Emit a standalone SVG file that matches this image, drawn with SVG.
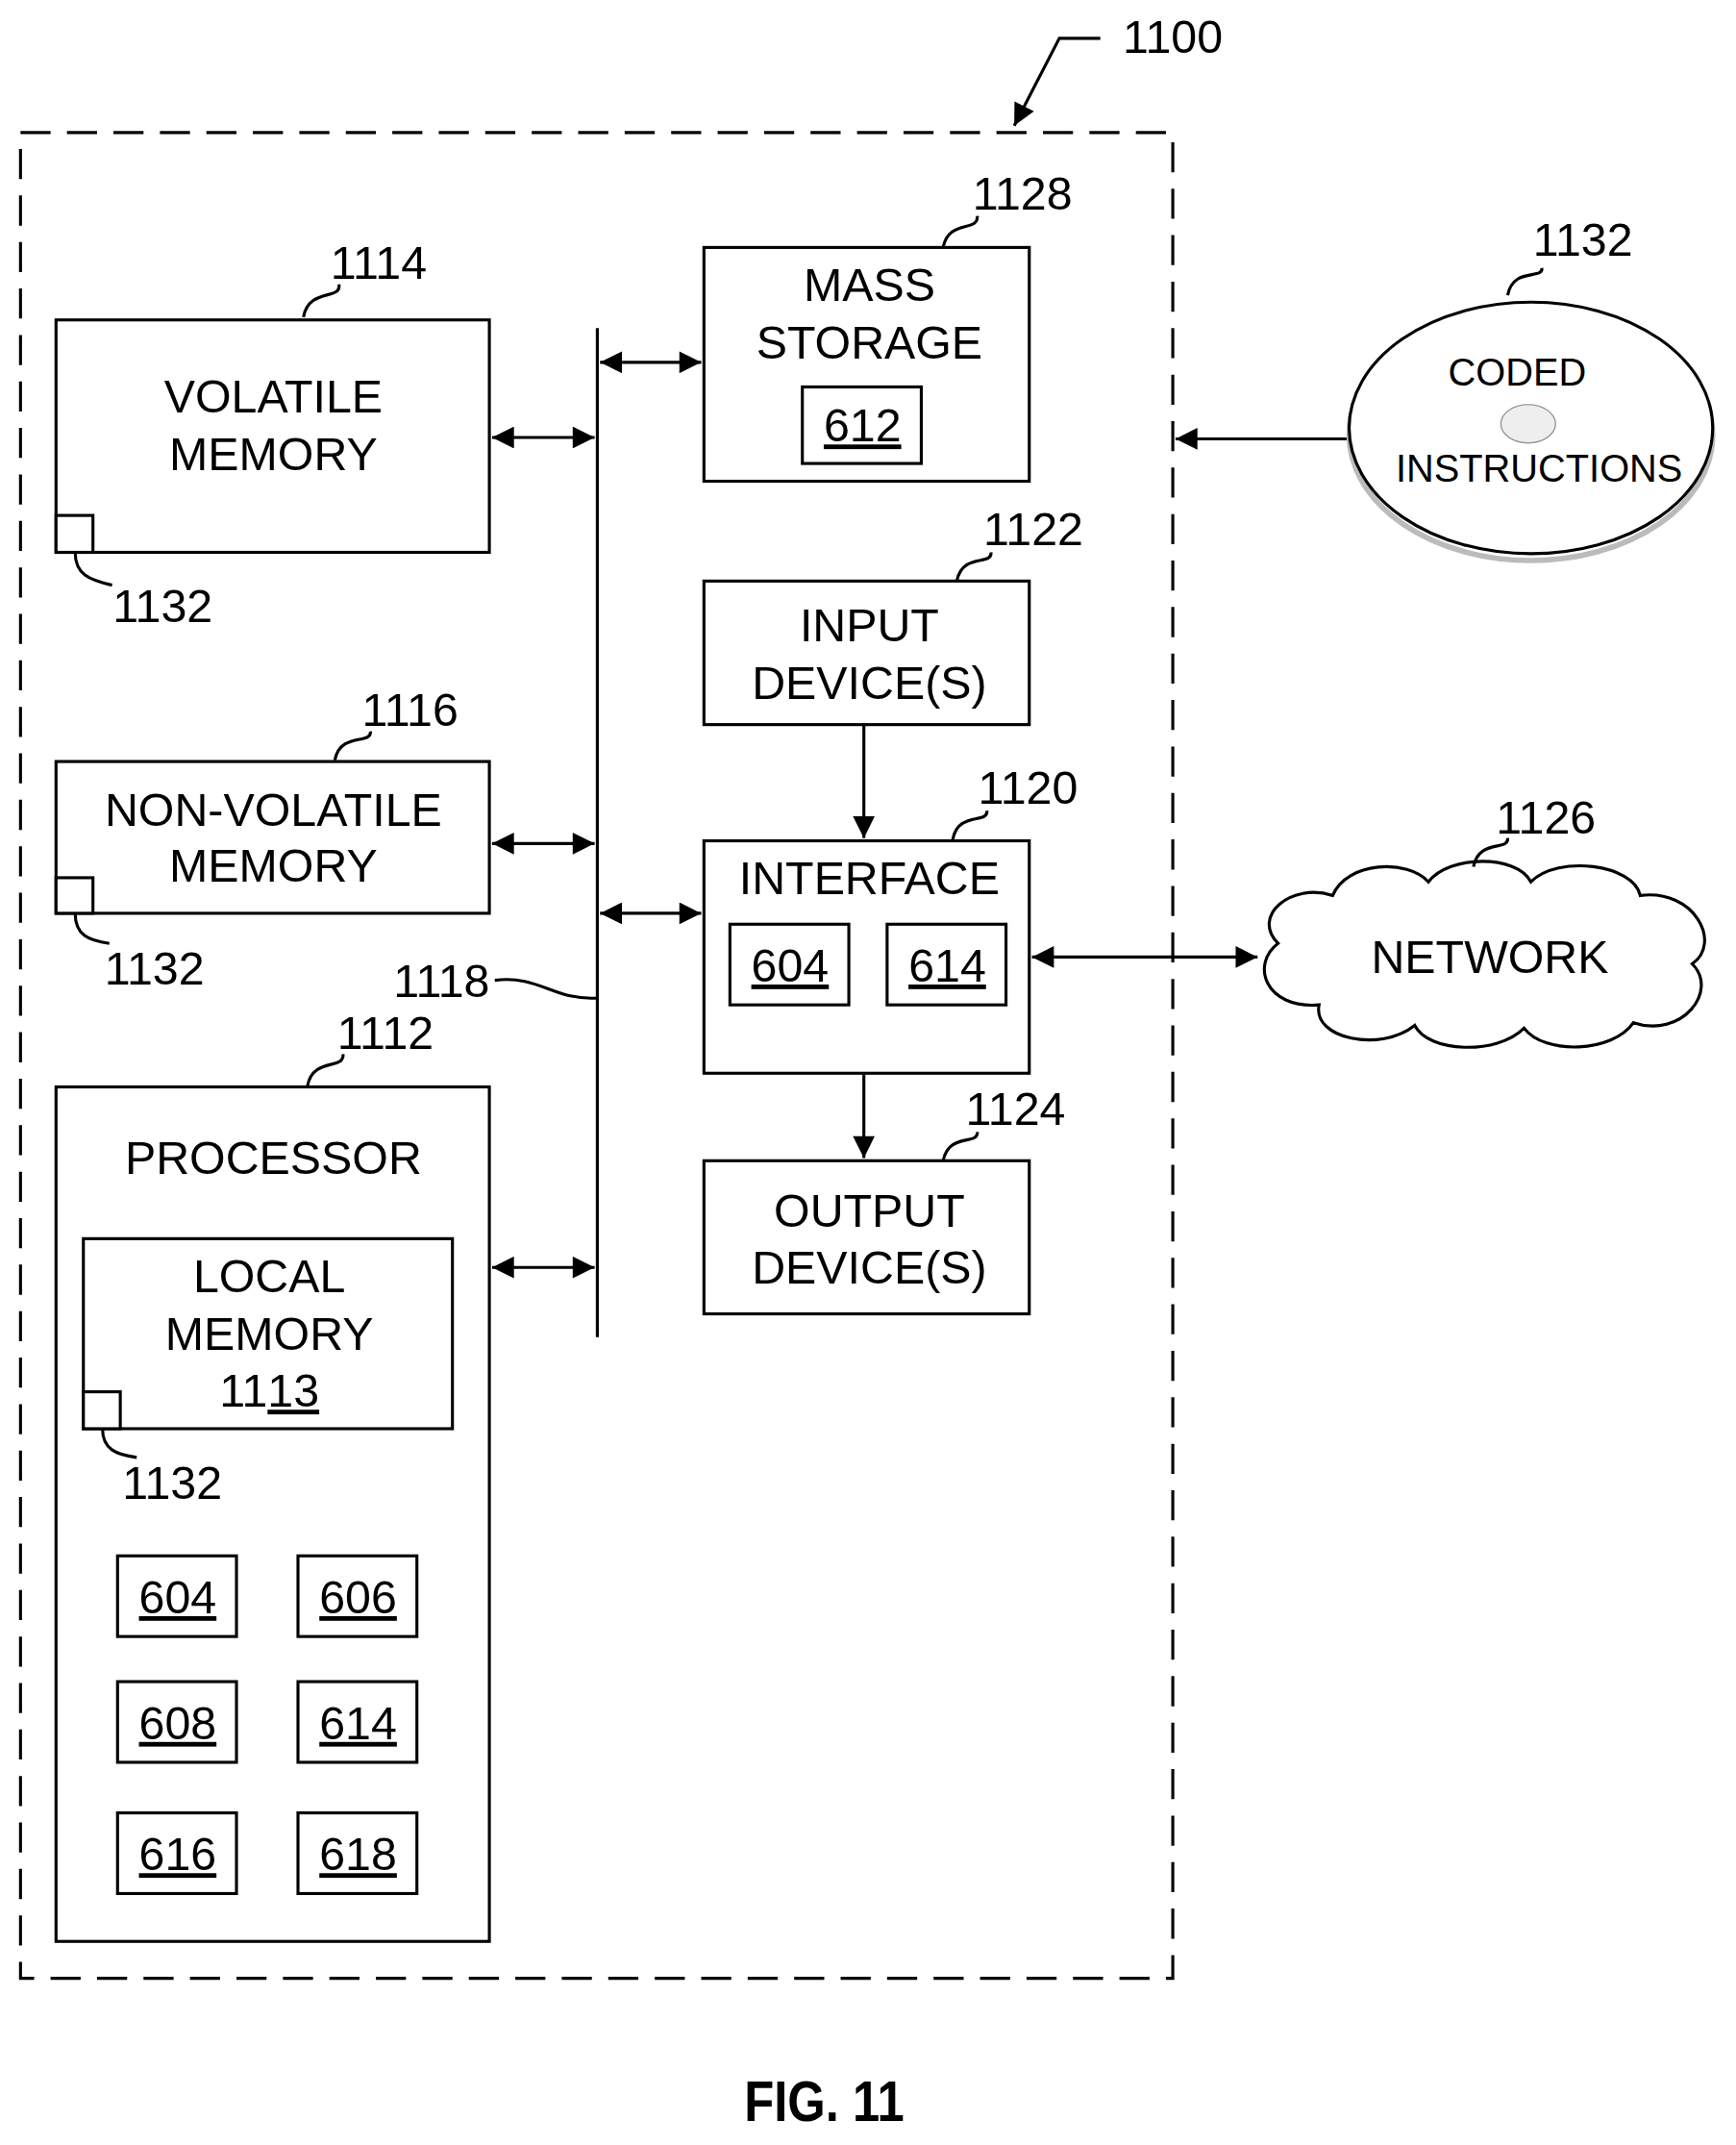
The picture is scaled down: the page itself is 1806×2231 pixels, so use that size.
<svg xmlns="http://www.w3.org/2000/svg" width="1806" height="2231" viewBox="0 0 1806 2231">
<defs>
<style>
.b{fill:#fff;stroke:#000;stroke-width:2.2}
.l{fill:none;stroke:#000;stroke-width:2.2}
.t{font-family:"Liberation Sans",Arial,sans-serif;font-size:34px;text-anchor:middle;fill:#000}
.u{text-decoration:underline}
</style>
<marker id="a" viewBox="0 0 10 10" refX="10" refY="5" markerWidth="20" markerHeight="16" markerUnits="userSpaceOnUse" orient="auto-start-reverse"><path d="M0,0L10,5L0,10z"/></marker>
</defs>
<rect width="1806" height="2231" fill="#fff"/>
<g transform="scale(1.422)">
<rect x="15" y="97" width="843" height="1350" fill="none" stroke="#000" stroke-width="2.2" stroke-dasharray="22,12"/>
<g id="label1100"><text class="t" x="858" y="39">1100</text><path class="l" d="M805,28H775L742,92" marker-end="url(#a)"/></g>
<g id="connectors">
<line class="l" x1="437" y1="240" x2="437" y2="978"/>
<line class="l" x1="360" y1="320" x2="435" y2="320" marker-start="url(#a)" marker-end="url(#a)"/>
<line class="l" x1="439" y1="265" x2="513" y2="265" marker-start="url(#a)" marker-end="url(#a)"/>
<line class="l" x1="360" y1="617" x2="435" y2="617" marker-start="url(#a)" marker-end="url(#a)"/>
<line class="l" x1="439" y1="668" x2="513" y2="668" marker-start="url(#a)" marker-end="url(#a)"/>
<line class="l" x1="360" y1="927" x2="435" y2="927" marker-start="url(#a)" marker-end="url(#a)"/>
<line class="l" x1="632" y1="530" x2="632" y2="613" marker-end="url(#a)"/>
<line class="l" x1="632" y1="785" x2="632" y2="847" marker-end="url(#a)"/>
<line class="l" x1="755" y1="700" x2="920" y2="700" marker-start="url(#a)" marker-end="url(#a)"/>
<line class="l" x1="987" y1="321" x2="860" y2="321" marker-end="url(#a)"/>
<path class="l" d="M362,717C395,713 405,732 437,730"/>
</g>
<text class="t" x="323" y="729">1118</text>
<g id="volatile"><rect class="b" x="41" y="234" width="317" height="170"/><text class="t" x="200" y="302">VOLATILE</text><text class="t" x="200" y="344">MEMORY</text><rect class="b" x="41" y="377" width="27" height="27"/><path class="l" d="M55,404C55,420 65,424 82,428"/><text class="t" x="119" y="455">1132</text><text class="t" x="277" y="204">1114</text><path class="l" d="M222,232C226,210 250,220 248,208"/></g>
<g id="nonvolatile"><rect class="b" x="41" y="557" width="317" height="111"/><text class="t" x="200" y="604">NON-VOLATILE</text><text class="t" x="200" y="645">MEMORY</text><rect class="b" x="41" y="642" width="27" height="26"/><path class="l" d="M55,668C55,684 65,688 80,690"/><text class="t" x="113" y="720">1132</text><text class="t" x="300" y="531">1116</text><path class="l" d="M245,556C249,535 272,545 271,535"/></g>
<g id="processor"><rect class="b" x="41" y="795" width="317" height="625"/><text class="t" x="200" y="859">PROCESSOR</text><text class="t" x="282" y="767">1112</text><path class="l" d="M225,794C229,773 252,783 251,771"/>
<rect class="b" x="61" y="906" width="270" height="139"/><text class="t" x="197" y="945">LOCAL</text><text class="t" x="197" y="987">MEMORY</text><text class="t" x="197" y="1029">11<tspan class="u">13</tspan></text><rect class="b" x="61" y="1018" width="27" height="27"/><path class="l" d="M75,1045C75,1060 85,1064 100,1066"/><text class="t" x="126" y="1096">1132</text>
<rect class="b" x="86" y="1138" width="87" height="59"/><text class="t u" x="130" y="1180">604</text>
<rect class="b" x="218" y="1138" width="87" height="59"/><text class="t u" x="262" y="1180">606</text>
<rect class="b" x="86" y="1230" width="87" height="59"/><text class="t u" x="130" y="1272">608</text>
<rect class="b" x="218" y="1230" width="87" height="59"/><text class="t u" x="262" y="1272">614</text>
<rect class="b" x="86" y="1326" width="87" height="59"/><text class="t u" x="130" y="1368">616</text>
<rect class="b" x="218" y="1326" width="87" height="59"/><text class="t u" x="262" y="1368">618</text></g>
<g id="mass"><rect class="b" x="515" y="181" width="238" height="171"/><text class="t" x="636" y="220">MASS</text><text class="t" x="636" y="262">STORAGE</text><rect class="b" x="587" y="283" width="87" height="56"/><text class="t u" x="631" y="323">612</text><text class="t" x="748" y="153">1128</text><path class="l" d="M690,181C694,160 716,170 715,158"/></g>
<g id="input"><rect class="b" x="515" y="425" width="238" height="105"/><text class="t" x="636" y="469">INPUT</text><text class="t" x="636" y="511">DEVICE(S)</text><text class="t" x="756" y="399">1122</text><path class="l" d="M700,425C704,404 726,414 725,404"/></g>
<g id="interface"><rect class="b" x="515" y="615" width="238" height="170"/><text class="t" x="636" y="654">INTERFACE</text><rect class="b" x="534" y="676" width="87" height="59"/><text class="t u" x="578" y="718">604</text><rect class="b" x="649" y="676" width="87" height="59"/><text class="t u" x="693" y="718">614</text><text class="t" x="752" y="588">1120</text><path class="l" d="M697,614C701,593 723,603 722,593"/></g>
<g id="output"><rect class="b" x="515" y="849" width="238" height="112"/><text class="t" x="636" y="897">OUTPUT</text><text class="t" x="636" y="939">DEVICE(S)</text><text class="t" x="743" y="823">1124</text><path class="l" d="M690,849C694,828 716,838 715,828"/></g>
<g id="network"><path class="b" d="M935,690C915,670 945,645 975,655C985,630 1030,628 1045,645C1060,625 1110,625 1120,645C1140,625 1195,632 1200,655C1240,650 1260,690 1238,705C1258,725 1230,760 1195,748C1180,770 1130,772 1115,752C1095,772 1045,770 1035,750C1010,770 960,760 965,735C925,738 915,705 935,690Z"/><text class="t" x="1090" y="712">NETWORK</text><text class="t" x="1131" y="610">1126</text><path class="l" d="M1078,634C1082,613 1104,623 1103,613"/></g>
<g id="disc"><ellipse cx="1120" cy="318" rx="133" ry="92" fill="#fff" stroke="#bbb" stroke-width="4"/><ellipse cx="1120" cy="313" rx="133" ry="92" class="b"/><ellipse cx="1118" cy="310" rx="20" ry="14" fill="#eee" stroke="#999" stroke-width="1"/><text class="t" x="1110" y="282" style="font-size:28px">CODED</text><text class="t" x="1126" y="352" style="font-size:28px">INSTRUCTIONS</text><text class="t" x="1158" y="187">1132</text><path class="l" d="M1103,216C1107,195 1129,205 1128,196"/></g>
<text x="603" y="1551" style="font-family:'Liberation Sans',Arial,sans-serif;font-weight:bold;font-size:42px;text-anchor:middle" transform="translate(603 0) scale(0.85 1) translate(-603 0)">FIG. 11</text>
</g>
</svg>
